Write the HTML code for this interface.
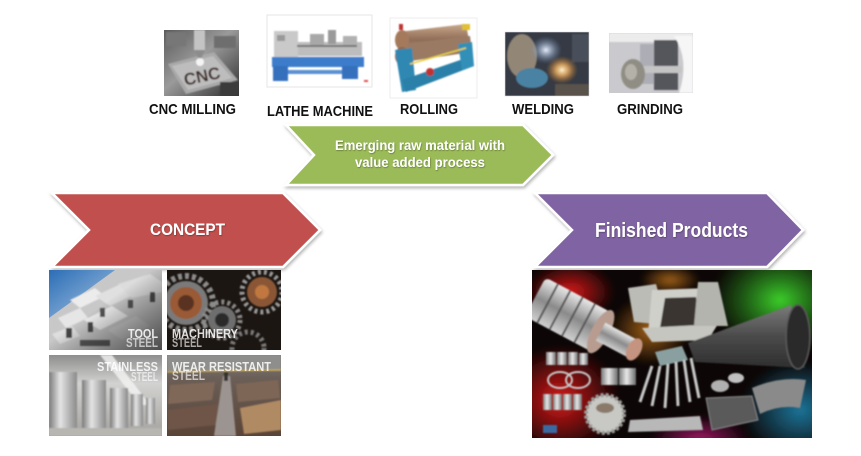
<!DOCTYPE html>
<html><head><meta charset="utf-8"><style>
html,body{margin:0;padding:0;background:#fff;width:861px;height:456px;overflow:hidden}
svg{display:block}
text{font-family:"Liberation Sans",Arial,sans-serif;font-weight:bold}
</style></head><body>
<svg width="861" height="456" viewBox="0 0 861 456" xmlns="http://www.w3.org/2000/svg">
<defs>
 <filter id="sh" x="-10%" y="-20%" width="125%" height="150%"><feDropShadow dx="1" dy="2" stdDeviation="1.5" flood-color="#000" flood-opacity="0.3"/></filter>
 <filter id="tsh"><feDropShadow dx="0.6" dy="0.8" stdDeviation="0.6" flood-color="#000" flood-opacity="0.35"/></filter>
 <filter id="bl"><feGaussianBlur stdDeviation="0.7"/></filter>
 <filter id="bl2"><feGaussianBlur stdDeviation="3"/></filter>
 <linearGradient id="cncbg" x1="0" y1="0" x2="1" y2="1"><stop offset="0" stop-color="#5a5a5a"/><stop offset=".45" stop-color="#9a9a9a"/><stop offset="1" stop-color="#2e2e2e"/></linearGradient>
 <linearGradient id="roll" x1="0" y1="0" x2="0" y2="1"><stop offset="0" stop-color="#c9a88c"/><stop offset=".5" stop-color="#8e6c56"/><stop offset="1" stop-color="#b89a84"/></linearGradient>
 <linearGradient id="sky" x1="0" y1="0" x2="1" y2="1"><stop offset="0" stop-color="#2b6db6"/><stop offset="1" stop-color="#a9c6e2"/></linearGradient>
 <linearGradient id="tooldark" x1="0" y1="0" x2="1" y2="1"><stop offset=".45" stop-color="#000" stop-opacity="0"/><stop offset="1" stop-color="#222" stop-opacity=".75"/></linearGradient>
 <linearGradient id="tank" x1="0" y1="0" x2="1" y2="0"><stop offset="0" stop-color="#7a7a7a"/><stop offset=".4" stop-color="#e4e4e4"/><stop offset="1" stop-color="#8a8a8a"/></linearGradient>
 <linearGradient id="stbg" x1="0" y1="0" x2="0" y2="1"><stop offset="0" stop-color="#8e8e8e"/><stop offset=".35" stop-color="#d2d2d0"/><stop offset="1" stop-color="#a4a29e"/></linearGradient>
 <linearGradient id="wearbg" x1="0" y1="0" x2="0" y2="1"><stop offset="0" stop-color="#7c7c7a"/><stop offset=".3" stop-color="#6a5e56"/><stop offset="1" stop-color="#5a4438"/></linearGradient>
 <linearGradient id="silver" x1="0" y1="0" x2="0" y2="1"><stop offset="0" stop-color="#e8e8e8"/><stop offset=".5" stop-color="#8a8a8a"/><stop offset="1" stop-color="#d0d0d0"/></linearGradient>
 <linearGradient id="silverh" x1="0" y1="0" x2="1" y2="0"><stop offset="0" stop-color="#7a7a7a"/><stop offset=".45" stop-color="#e8e8e8"/><stop offset="1" stop-color="#6a6a6a"/></linearGradient>
 <linearGradient id="cone" x1="0" y1="0" x2="0" y2="1"><stop offset="0" stop-color="#7a7a7a"/><stop offset=".5" stop-color="#4a4a4a"/><stop offset="1" stop-color="#2e2e2e"/></linearGradient>
 <radialGradient id="rRed" cx="0.5" cy="0.5" r="0.5"><stop offset="0" stop-color="#e01818" stop-opacity=".95"/><stop offset="1" stop-color="#e01818" stop-opacity="0"/></radialGradient>
 <radialGradient id="rGreen" cx="0.5" cy="0.5" r="0.5"><stop offset="0" stop-color="#3cd02a" stop-opacity="1"/><stop offset="1" stop-color="#2aa020" stop-opacity="0"/></radialGradient>
 <radialGradient id="rBlue" cx="0.5" cy="0.5" r="0.5"><stop offset="0" stop-color="#1c7aa0" stop-opacity=".95"/><stop offset="1" stop-color="#1c7aa0" stop-opacity="0"/></radialGradient>
 <radialGradient id="rOr" cx="0.5" cy="0.5" r="0.5"><stop offset="0" stop-color="#b06a18" stop-opacity=".9"/><stop offset="1" stop-color="#b06a18" stop-opacity="0"/></radialGradient>
 <radialGradient id="rMag" cx="0.5" cy="0.5" r="0.5"><stop offset="0" stop-color="#b01870" stop-opacity=".9"/><stop offset="1" stop-color="#b01870" stop-opacity="0"/></radialGradient>
 <radialGradient id="spark" cx="0.5" cy="0.5" r="0.5"><stop offset="0" stop-color="#fff4d0"/><stop offset=".4" stop-color="#f0b060" stop-opacity=".8"/><stop offset="1" stop-color="#c07020" stop-opacity="0"/></radialGradient>
 <radialGradient id="wlight" cx="0.5" cy="0.5" r="0.5"><stop offset="0" stop-color="#e8f0ff"/><stop offset="1" stop-color="#6a88b0" stop-opacity="0"/></radialGradient>
 <clipPath id="c1"><rect x="49" y="270" width="113" height="80"/></clipPath>
 <clipPath id="c2"><rect x="167" y="270" width="114" height="80"/></clipPath>
 <clipPath id="c3"><rect x="49" y="355" width="113" height="81"/></clipPath>
 <clipPath id="c4"><rect x="167" y="355" width="114" height="81"/></clipPath>
 <clipPath id="c5"><rect x="532" y="270" width="280" height="168"/></clipPath>
 <clipPath id="cw"><rect x="505" y="32" width="84" height="64"/></clipPath>
 <clipPath id="cg"><rect x="609" y="33" width="84" height="60"/></clipPath>
 <clipPath id="cc"><rect x="164" y="30" width="75" height="66"/></clipPath>
</defs>

<!-- ===== TOP PROCESS IMAGES ===== -->
<g clip-path="url(#cc)">
 <rect x="164" y="30" width="75" height="66" fill="url(#cncbg)"/>
 <g filter="url(#bl)">
 <rect x="166" y="32" width="20" height="14" fill="#777"/>
 <rect x="214" y="36" width="22" height="12" fill="#6e6e6e"/>
 <polygon points="168,64 214,52 238,80 186,94" fill="#a9a9a9"/>
 <polygon points="172,66 213,56 232,78 188,90" fill="#bdbdbd"/>
 <rect x="194" y="30" width="11" height="20" fill="#c4c4c4"/>
 <polygon points="194,50 205,50 200,61" fill="#8c8c8c"/>
 <circle cx="200" cy="62" r="4" fill="#fff" opacity=".85"/>
 <text x="202" y="82" font-size="17" fill="#3e2c25" text-anchor="middle" transform="rotate(-12 202 76)">CNC</text>
 <rect x="220" y="82" width="19" height="14" fill="#3a3a3a"/>
 </g>
</g>
<rect x="267" y="15" width="105" height="72" fill="#fff" stroke="#e6e6e6"/>
<g filter="url(#bl)">
 <rect x="274" y="31" width="24" height="29" fill="#c9c9c9"/>
 <rect x="277" y="35" width="8" height="6" fill="#999"/>
 <rect x="298" y="42" width="64" height="14" fill="#bdbdbd"/>
 <rect x="310" y="34" width="14" height="12" fill="#a8a8a8"/>
 <rect x="328" y="30" width="8" height="14" fill="#9a9a9a"/>
 <rect x="343" y="36" width="14" height="10" fill="#b0b0b0"/>
 <rect x="297" y="45" width="60" height="2" fill="#777"/>
 <rect x="272" y="57" width="92" height="10" fill="#3d7ccb"/>
 <rect x="273" y="66" width="15" height="15" fill="#3470bd"/>
 <rect x="342" y="66" width="16" height="13" fill="#3470bd"/>
 <rect x="288" y="70" width="54" height="4" fill="#5a90d4"/>
 <rect x="364" y="80" width="4" height="2" fill="#e05050"/>
</g>
<rect x="390" y="18" width="87" height="80" fill="#fff" stroke="#eeeeee"/>
<g filter="url(#bl)">
 <polygon points="398,32 466,24 470,46 402,56" fill="url(#roll)"/>
 <polygon points="402,44 470,36 472,52 404,62" fill="#9a7a64"/>
 <ellipse cx="402" cy="40" rx="7" ry="10" fill="#a57a5c"/>
 <ellipse cx="402" cy="56" rx="7" ry="9" fill="#8e6650"/>
 <rect x="399" y="24" width="4" height="6" fill="#c03030"/>
 <rect x="462" y="24" width="8" height="6" fill="#e0c030"/>
 <polygon points="395,50 412,48 416,90 402,92" fill="#2f88b2"/>
 <polygon points="402,80 466,58 474,66 406,92" fill="#2a80a8"/>
 <polygon points="458,44 472,42 474,66 462,70" fill="#3290b8"/>
 <line x1="410" y1="64" x2="466" y2="48" stroke="#e8d040" stroke-width="1.5"/>
 <circle cx="430" cy="72" r="4" fill="#c03030"/>
</g>
<g clip-path="url(#cw)">
 <rect x="505" y="32" width="84" height="64" fill="#353a44"/>
 <g filter="url(#bl)">
 <ellipse cx="522" cy="56" rx="15" ry="22" fill="#928676"/>
 <ellipse cx="546" cy="50" rx="16" ry="14" fill="url(#wlight)"/>
 <ellipse cx="532" cy="78" rx="16" ry="10" fill="#4a82a2"/>
 <ellipse cx="562" cy="70" rx="16" ry="14" fill="url(#spark)"/>
 <rect x="572" y="34" width="17" height="28" fill="#48505a"/>
 <rect x="555" y="84" width="34" height="12" fill="#5a524c"/>
 </g>
</g>
<rect x="505" y="32" width="84" height="64" fill="none" stroke="#ddd" stroke-width=".6"/>
<g clip-path="url(#cg)">
 <rect x="609" y="33" width="84" height="60" fill="#cacace"/>
 <g filter="url(#bl)">
 <rect x="609" y="33" width="84" height="9" fill="#ececec"/>
 <rect x="654" y="40" width="24" height="50" fill="#55555c"/>
 <rect x="640" y="44" width="14" height="40" fill="#adadb5"/>
 <path d="M674,36 Q690,60 679,93 L693,93 L693,36 Z" fill="#f6f6f6"/>
 <rect x="630" y="66" width="52" height="7" fill="#c4c4c4"/>
 <ellipse cx="633" cy="74" rx="12" ry="15" fill="#908e84"/>
 <ellipse cx="631" cy="72" rx="6" ry="8" fill="#b4b2a8"/>
 </g>
</g>

<g fill="#111" font-size="15">
 <text x="192.5" y="114" text-anchor="middle" textLength="87" lengthAdjust="spacingAndGlyphs">CNC MILLING</text>
 <text x="320" y="116" text-anchor="middle" textLength="106" lengthAdjust="spacingAndGlyphs">LATHE MACHINE</text>
 <text x="429" y="114" text-anchor="middle" textLength="58" lengthAdjust="spacingAndGlyphs">ROLLING</text>
 <text x="543" y="114" text-anchor="middle" textLength="62" lengthAdjust="spacingAndGlyphs">WELDING</text>
 <text x="650" y="114" text-anchor="middle" textLength="66" lengthAdjust="spacingAndGlyphs">GRINDING</text>
</g>

<!-- ===== CHEVRONS ===== -->
<polygon points="286,125 523,125 553,155 523,185 286,185 314,155" fill="#9BBB59" stroke="#fff" stroke-width="2.5" filter="url(#sh)"/>
<polygon points="52,193 283,193 320,230 283,267 52,267 89,230" fill="#C0504D" stroke="#fff" stroke-width="2.5" filter="url(#sh)"/>
<polygon points="535,193 767,193 803,230 767,267 535,267 572,230" fill="#8064A2" stroke="#fff" stroke-width="2.5" filter="url(#sh)"/>

<g fill="#fff" filter="url(#tsh)">
 <text x="420" y="150" font-size="14" text-anchor="middle" textLength="170" lengthAdjust="spacingAndGlyphs">Emerging raw material with</text>
 <text x="420" y="167" font-size="14" text-anchor="middle" textLength="130" lengthAdjust="spacingAndGlyphs">value added process</text>
 <text x="187.5" y="235" font-size="17" text-anchor="middle" textLength="75" lengthAdjust="spacingAndGlyphs">CONCEPT</text>
 <text x="671.5" y="237" font-size="20" text-anchor="middle" textLength="153" lengthAdjust="spacingAndGlyphs">Finished Products</text>
</g>

<!-- ===== CONCEPT GRID ===== -->
<g clip-path="url(#c1)">
 <rect x="49" y="270" width="113" height="80" fill="#c8c8c8"/>
 <polygon points="49,270 115,270 49,318" fill="url(#sky)"/>
 <g filter="url(#bl)">
  <polygon points="70,300 95,288 105,296 80,308" fill="#ececec"/>
  <polygon points="58,318 80,308 88,318 66,328" fill="#e6e6e6"/>
  <polygon points="95,296 125,282 140,292 110,306" fill="#e0e0e0"/>
  <polygon points="118,284 150,274 162,282 162,292 132,298" fill="#dcdcdc"/>
  <polygon points="84,320 112,306 128,316 100,330" fill="#f0f0f0"/>
  <polygon points="52,334 72,326 80,336 60,344" fill="#dedede"/>
  <polygon points="108,330 136,316 150,326 122,340" fill="#d4d4d4"/>
  <rect x="66" y="328" width="6" height="10" fill="#444"/>
  <rect x="88" y="322" width="5" height="10" fill="#4a4a4a"/>
  <rect x="100" y="308" width="5" height="9" fill="#555"/>
  <rect x="128" y="300" width="5" height="8" fill="#555"/>
  <rect x="150" y="292" width="5" height="10" fill="#4a4a4a"/>
  <rect x="80" y="340" width="30" height="6" fill="#5a5a5a"/>
 </g>
 <rect x="49" y="270" width="113" height="80" fill="url(#tooldark)"/>
</g>
<g clip-path="url(#c2)">
 <rect x="167" y="270" width="114" height="80" fill="#1c1612"/>
 <g filter="url(#bl)">
  <circle cx="186" cy="303" r="27" fill="none" stroke="#8c8c8c" stroke-width="6" stroke-dasharray="4 3"/>
  <circle cx="186" cy="303" r="22" fill="#7a7a7a"/>
  <circle cx="186" cy="303" r="16" fill="#9a5a34"/>
  <circle cx="186" cy="303" r="8" fill="#5a3020"/>
  <circle cx="222" cy="320" r="18" fill="none" stroke="#8a8a8a" stroke-width="5" stroke-dasharray="3 3"/>
  <circle cx="222" cy="320" r="14" fill="#6e6e6e"/>
  <circle cx="222" cy="320" r="7" fill="#2a2a2a"/>
  <circle cx="262" cy="292" r="20" fill="none" stroke="#9a9a9a" stroke-width="5" stroke-dasharray="3 3"/>
  <circle cx="262" cy="292" r="15" fill="#8a5634"/>
  <circle cx="262" cy="292" r="7" fill="#c07840"/>
  <circle cx="248" cy="348" r="16" fill="none" stroke="#7a7a7a" stroke-width="5" stroke-dasharray="3 3"/>
 </g>
</g>
<g clip-path="url(#c3)">
 <rect x="49" y="355" width="113" height="81" fill="url(#stbg)"/>
 <g filter="url(#bl)">
  <polygon points="100,355 112,355 150,405 140,405" fill="#f4f4f4" opacity=".8"/>
  <rect x="49" y="372" width="28" height="60" fill="url(#tank)"/>
  <rect x="82" y="380" width="24" height="50" fill="url(#tank)"/>
  <rect x="110" y="388" width="18" height="40" fill="url(#tank)"/>
  <rect x="131" y="394" width="12" height="32" fill="url(#tank)"/>
  <rect x="146" y="398" width="9" height="26" fill="url(#tank)"/>
  <rect x="49" y="428" width="113" height="8" fill="#b8b6b0"/>
 </g>
</g>
<g clip-path="url(#c4)">
 <rect x="167" y="355" width="114" height="81" fill="url(#wearbg)"/>
 <g filter="url(#bl)">
  <rect x="167" y="355" width="114" height="16" fill="#8e8e8c"/>
  <line x1="167" y1="372" x2="281" y2="370" stroke="#d4b040" stroke-width="1.2"/>
  <polygon points="170,385 215,382 212,400 168,404" fill="#806858"/>
  <polygon points="168,410 218,404 216,425 168,430" fill="#6e5446"/>
  <polygon points="236,384 278,380 280,398 238,402" fill="#7e6656"/>
  <polygon points="240,408 281,400 281,430 244,434" fill="#b08a64"/>
  <polygon points="223,376 230,376 236,436 214,436" fill="#9c9490"/>
  <rect x="224" y="372" width="4" height="9" fill="#333"/>
 </g>
</g>
<g fill="#fff" opacity=".85" font-size="13">
 <text x="158" y="338" text-anchor="end" textLength="30" lengthAdjust="spacingAndGlyphs">TOOL</text>
 <text x="158" y="347" text-anchor="end" textLength="32" lengthAdjust="spacingAndGlyphs" opacity=".75">STEEL</text>
 <text x="172" y="338" textLength="66" lengthAdjust="spacingAndGlyphs">MACHINERY</text>
 <text x="172" y="347" textLength="30" lengthAdjust="spacingAndGlyphs" opacity=".75">STEEL</text>
 <text x="158" y="371" text-anchor="end" textLength="61" lengthAdjust="spacingAndGlyphs">STAINLESS</text>
 <text x="158" y="381" text-anchor="end" textLength="27" lengthAdjust="spacingAndGlyphs" opacity=".75">STEEL</text>
 <text x="172" y="371" textLength="99" lengthAdjust="spacingAndGlyphs">WEAR RESISTANT</text>
 <text x="172" y="380" textLength="33" lengthAdjust="spacingAndGlyphs" opacity=".75">STEEL</text>
</g>

<!-- ===== FINISHED PRODUCTS IMAGE ===== -->
<g clip-path="url(#c5)">
 <rect x="532" y="270" width="280" height="168" fill="#0c0606"/>
 <g filter="url(#bl2)">
  <ellipse cx="560" cy="400" rx="60" ry="55" fill="url(#rRed)"/>
  <ellipse cx="570" cy="292" rx="45" ry="30" fill="url(#rRed)"/>
  <ellipse cx="650" cy="330" rx="40" ry="35" fill="url(#rOr)"/>
  <ellipse cx="780" cy="300" rx="70" ry="55" fill="url(#rGreen)"/>
  <ellipse cx="800" cy="410" rx="60" ry="50" fill="url(#rBlue)"/>
  <ellipse cx="700" cy="440" rx="50" ry="25" fill="url(#rMag)"/>
  <ellipse cx="670" cy="280" rx="30" ry="15" fill="url(#rOr)"/>
 </g>
 <g filter="url(#bl)">
  <!-- roll -->
  <g transform="rotate(28 575 318)">
   <rect x="530" y="296" width="74" height="44" rx="5" fill="url(#silver)"/>
   <line x1="544" y1="296" x2="544" y2="340" stroke="#555" stroke-width="2"/>
   <line x1="558" y1="296" x2="558" y2="340" stroke="#555" stroke-width="2"/>
   <line x1="572" y1="296" x2="572" y2="340" stroke="#555" stroke-width="2"/>
   <line x1="586" y1="296" x2="586" y2="340" stroke="#555" stroke-width="2"/>
   <ellipse cx="604" cy="318" rx="9" ry="24" fill="#b89c90"/>
   <rect x="604" y="308" width="38" height="20" fill="url(#silver)"/>
   <ellipse cx="642" cy="318" rx="7" ry="12" fill="#c49480"/>
  </g>
  <!-- hoppers -->
  <polygon points="628,288 656,284 668,325 634,322" fill="#bcbcb6"/>
  <polygon points="652,290 708,288 714,330 648,334" fill="#d0d0ca"/>
  <polygon points="665,298 696,297 700,326 660,328" fill="#3a3632"/>
  <polygon points="642,328 718,324 708,340 652,342" fill="#c6c6c0"/>
  <polygon points="698,282 718,282 728,326 694,326" fill="#b4b4ae"/>
  <!-- cone screen -->
  <polygon points="688,343 791,305 805,368 695,362" fill="url(#cone)"/>
  <ellipse cx="798" cy="337" rx="12" ry="32" fill="#2a2a2a" stroke="#5a5a5a" stroke-width="1.5"/>
  <!-- cups -->
  <rect x="546" y="352" width="10" height="13" fill="url(#silverh)"/>
  <rect x="557" y="352" width="10" height="13" fill="url(#silverh)"/>
  <rect x="568" y="352" width="10" height="13" fill="url(#silverh)"/>
  <rect x="579" y="353" width="9" height="12" fill="url(#silverh)"/>
  <ellipse cx="560" cy="380" rx="12" ry="8" fill="none" stroke="#c8c8c8" stroke-width="2"/>
  <ellipse cx="578" cy="380" rx="12" ry="8" fill="none" stroke="#c8c8c8" stroke-width="2"/>
  <rect x="601" y="368" width="17" height="17" fill="url(#silverh)"/>
  <rect x="619" y="368" width="17" height="17" fill="url(#silverh)"/>
  <rect x="543" y="394" width="9" height="16" fill="url(#silverh)"/>
  <rect x="553" y="394" width="9" height="16" fill="url(#silverh)"/>
  <rect x="563" y="394" width="9" height="16" fill="url(#silverh)"/>
  <rect x="573" y="394" width="9" height="16" fill="url(#silverh)"/>
  <!-- gear -->
  <circle cx="605" cy="414" r="19" fill="#c8c8c4" stroke="#9a9a96" stroke-width="4" stroke-dasharray="3 2"/>
  <ellipse cx="605" cy="408" rx="9" ry="5" fill="#8a7a6a"/>
  <!-- tubes -->
  <polygon points="655,352 682,346 688,360 660,366" fill="#8aa0a0"/>
  <line x1="652" y1="366" x2="640" y2="402" stroke="#c8c8c8" stroke-width="3"/>
  <line x1="660" y1="366" x2="652" y2="406" stroke="#c8c8c8" stroke-width="3"/>
  <line x1="668" y1="364" x2="665" y2="408" stroke="#c8c8c8" stroke-width="3"/>
  <line x1="676" y1="362" x2="678" y2="406" stroke="#c8c8c8" stroke-width="3"/>
  <line x1="684" y1="360" x2="690" y2="402" stroke="#c8c8c8" stroke-width="3"/>
  <line x1="691" y1="358" x2="699" y2="398" stroke="#c8c8c8" stroke-width="3"/>
  <!-- bar -->
  <polygon points="630,420 700,416 703,430 628,432" fill="#b8b8b8"/>
  <!-- perforated plate -->
  <polygon points="706,398 752,396 758,420 712,430" fill="#5a5a5a" stroke="#888" stroke-width="1"/>
  <!-- curved plate -->
  <path d="M752,388 Q780,376 806,380 L800,408 Q780,404 760,414 Z" fill="#8a8a8a"/>
  <ellipse cx="720" cy="386" rx="9" ry="6" fill="#b0b0b0"/>
  <ellipse cx="736" cy="378" rx="8" ry="5" fill="#c0c0c0"/>
  <rect x="543" y="425" width="14" height="8" fill="#3a6aa0"/>
 </g>
</g>
</svg>
</body></html>
